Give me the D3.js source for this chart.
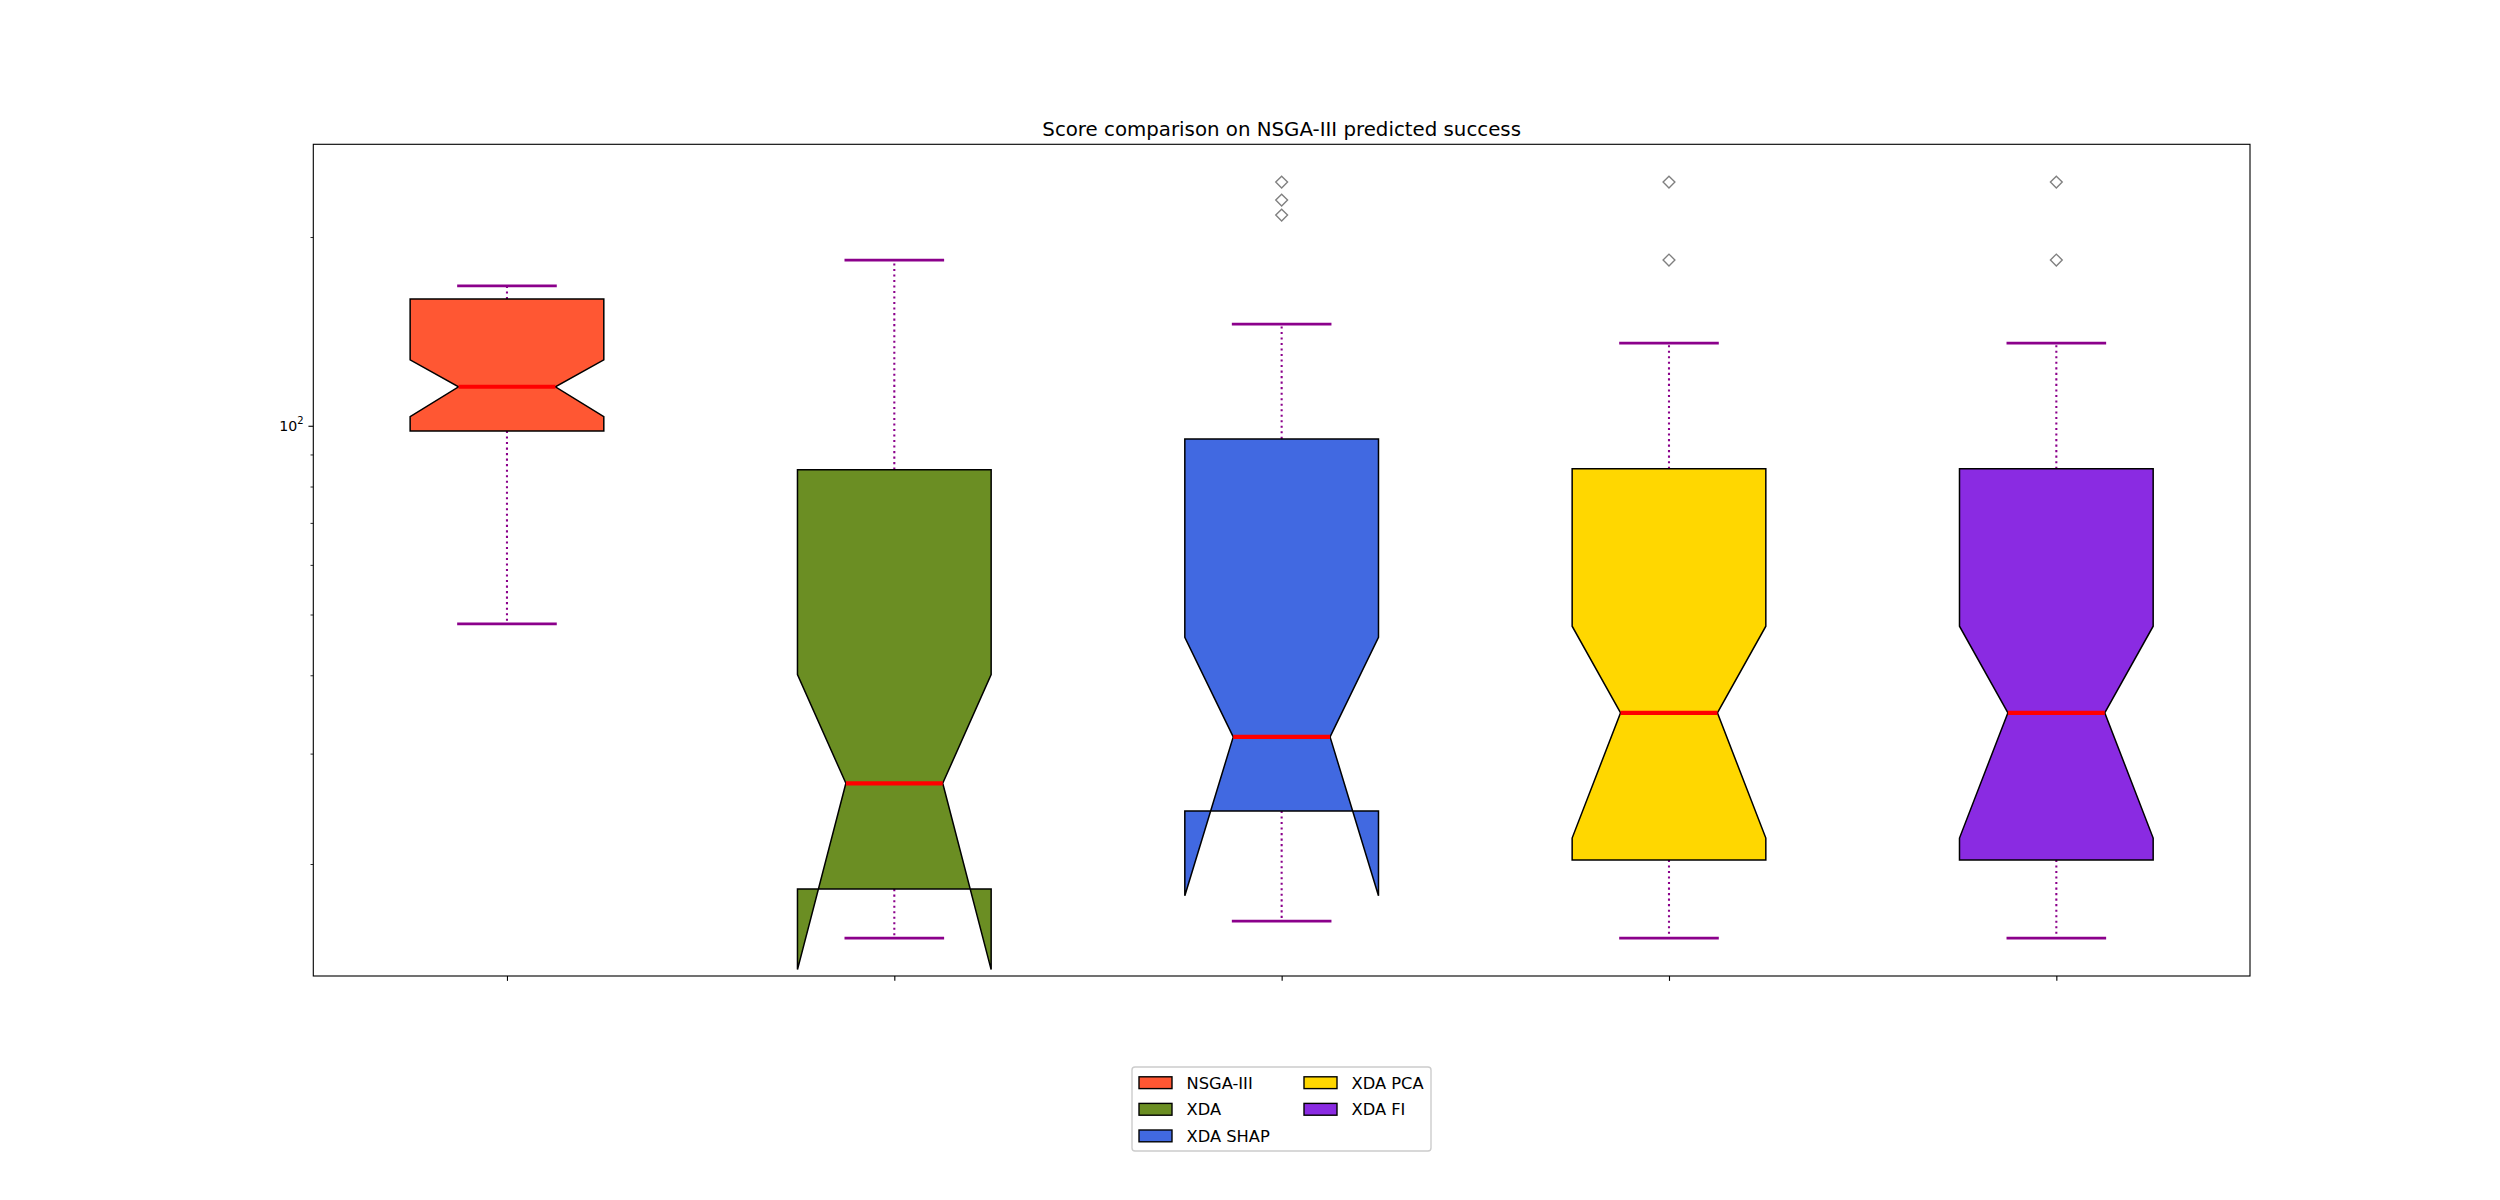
<!DOCTYPE html>
<html>
<head>
<meta charset="utf-8">
<script src="https://cdn.jsdelivr.net/npm/d3@7"></script>
<style>
  html, body { margin: 0; padding: 0; background: #ffffff; }
  svg { display: block; }
  text { font-family: "DejaVu Sans", sans-serif; fill: #000; }
</style>
</head>
<body>
<svg id="chart" width="2500" height="1200"></svg>
<script>
// ---------- data ----------
const categories  = ["NSGA-III", "XDA", "XDA SHAP", "XDA PCA", "XDA FI"];
const whiskerLow  = [48.3, 15.23, 16.22, 15.23, 15.23];
const q1          = [98.1, 18.24, 24.3, 20.3, 20.3];
const notchLow    = [103.4, 13.57, 17.8, 22.0, 22.0];
const median      = [115.4, 26.9, 31.9, 34.85, 34.85];
const notchHigh   = [127.4, 40.1, 46.0, 47.9, 47.9];
const q3          = [159.3, 85.1, 95.3, 85.4, 85.4];
const whiskerHigh = [167.1, 183.8, 145.3, 135.5, 135.5];
const outliers    = [[], [], [244.7, 229.1, 216.8], [244.7, 183.8], [244.7, 183.8]];
const boxColors   = ["#FF5733", "#6B8E23", "#4169E1", "#FFD700", "#8A2BE2"];
const majorTicks  = [100];
const minorTicks  = [20, 30, 40, 50, 60, 70, 80, 90, 200];
const title       = "Score comparison on NSGA-III predicted success";

// ---------- layout ----------
const svg = d3.select("#chart");
const L = 313.3, R = 2250, T = 144.3, B = 976;
const boxWidth = 0.5;
const whiskColor = "#8B008B";

// y domain like matplotlib autoscale: 5% margin in log space on line data
const allVals = whiskerLow.concat(whiskerHigh, outliers.flat());
const lmin = Math.log10(d3.min(allVals)), lmax = Math.log10(d3.max(allVals));
const span = lmax - lmin;
const y = d3.scaleLog()
  .domain([Math.pow(10, lmin - 0.05 * span), Math.pow(10, lmax + 0.05 * span)])
  .range([B, T]);
const x = d3.scaleLinear().domain([0.5, categories.length + 0.5]).range([L, R]);

const g = svg.append("g");

// ---------- boxes ----------
categories.forEach((c, i) => {
  const pos = i + 1;
  const bl = x(pos - boxWidth / 2), br = x(pos + boxWidth / 2);
  const nl = x(pos - boxWidth / 4), nr = x(pos + boxWidth / 4);
  const cx = x(pos);
  const capL = x(pos - boxWidth / 4), capR = x(pos + boxWidth / 4);

  // whiskers (dotted)
  [[q1[i], whiskerLow[i]], [q3[i], whiskerHigh[i]]].forEach(([a, b]) => {
    g.append("line")
      .attr("x1", cx).attr("x2", cx)
      .attr("y1", y(a)).attr("y2", y(b))
      .attr("stroke", whiskColor)
      .attr("stroke-width", 2.08)
      .attr("stroke-dasharray", "2.08,3.44");
  });
  // caps
  [whiskerLow[i], whiskerHigh[i]].forEach(v => {
    g.append("line")
      .attr("x1", capL).attr("x2", capR)
      .attr("y1", y(v)).attr("y2", y(v))
      .attr("stroke", whiskColor)
      .attr("stroke-width", 2.78)
      .attr("stroke-linecap", "square");
  });
  // notched box (matplotlib vertex order)
  const pts = [
    [bl, y(q1[i])], [br, y(q1[i])], [br, y(notchLow[i])], [nr, y(median[i])],
    [br, y(notchHigh[i])], [br, y(q3[i])], [bl, y(q3[i])], [bl, y(notchHigh[i])],
    [nl, y(median[i])], [bl, y(notchLow[i])], [bl, y(q1[i])]
  ];
  g.append("path")
    .attr("d", d3.line()(pts) + "Z")
    .attr("fill", boxColors[i])
    .attr("stroke", "#000")
    .attr("stroke-width", 1.5)
    .attr("stroke-linejoin", "miter");
  // median
  g.append("line")
    .attr("x1", nl).attr("x2", nr)
    .attr("y1", y(median[i])).attr("y2", y(median[i]))
    .attr("stroke", "#ff0000")
    .attr("stroke-width", 4.17);
  // outliers (diamonds)
  outliers[i].forEach(v => {
    const d = 5.9, py = y(v);
    g.append("path")
      .attr("d", `M${cx},${py - d}L${cx + d},${py}L${cx},${py + d}L${cx - d},${py}Z`)
      .attr("fill", "none")
      .attr("stroke", "#808080")
      .attr("stroke-width", 1.39);
  });
});

// ---------- axes ----------
const yAxis = d3.axisLeft(y).tickValues(majorTicks).tickSize(4.86).tickPadding(4.86)
  .tickFormat(() => "");
const yg = svg.append("g").attr("transform", `translate(${L},0)`).call(yAxis);
yg.select(".domain").remove();
yg.selectAll(".tick line").attr("stroke", "#000").attr("stroke-width", 1.11);
yg.selectAll(".tick text").each(function(d) {
  const t = d3.select(this);
  t.text(null).attr("font-size", 14.2).attr("font-family", "DejaVu Sans").attr("fill", "#000")
    .attr("dy", "0.35em");
  const e = Math.round(Math.log10(d));
  t.append("tspan").text("10");
  t.append("tspan").text(String(e)).attr("font-size", 10).attr("dy", "-0.75em");
});

const yMinor = d3.axisLeft(y).tickValues(minorTicks).tickSize(2.78).tickFormat(() => "");
const ymg = svg.append("g").attr("transform", `translate(${L},0)`).call(yMinor);
ymg.select(".domain").remove();
ymg.selectAll(".tick line").attr("stroke", "#000").attr("stroke-width", 0.83);
ymg.selectAll(".tick text").remove();

const xAxis = d3.axisBottom(x).tickValues(categories.map((c, i) => i + 1)).tickSize(4.86)
  .tickFormat(() => "");
const xg = svg.append("g").attr("transform", `translate(0,${B})`).call(xAxis);
xg.select(".domain").remove();
xg.selectAll(".tick line").attr("stroke", "#000").attr("stroke-width", 1.11);

// spines
svg.append("rect")
  .attr("x", L).attr("y", T).attr("width", R - L).attr("height", B - T)
  .attr("fill", "none").attr("stroke", "#000").attr("stroke-width", 1.11);

// title
svg.append("text")
  .attr("x", (L + R) / 2).attr("y", T - 8.3)
  .attr("text-anchor", "middle")
  .attr("font-size", 19.8)
  .text(title);

// ---------- legend ----------
const lx = 1132, ly = 1067, lw = 299, lh = 84;
const leg = svg.append("g");
leg.append("rect")
  .attr("x", lx).attr("y", ly).attr("width", lw).attr("height", lh)
  .attr("rx", 3).attr("ry", 3)
  .attr("fill", "#fff").attr("fill-opacity", 0.8)
  .attr("stroke", "#cccccc").attr("stroke-width", 1.39);
const rowsPerCol = 3;
const colX = [1139, 1304];
const rowY = [1082.7, 1109.3, 1135.9];
categories.forEach((c, i) => {
  const col = Math.floor(i / rowsPerCol), row = i % rowsPerCol;
  const px = colX[col], cy = rowY[row];
  leg.append("rect")
    .attr("x", px).attr("y", cy - 5.9)
    .attr("width", 33).attr("height", 11.8)
    .attr("fill", boxColors[i]).attr("stroke", "#000").attr("stroke-width", 1.39);
  leg.append("text")
    .attr("x", px + 47.5).attr("y", cy)
    .attr("dy", "0.36em")
    .attr("font-size", 16.3)
    .text(c);
});
</script>
</body>
</html>
